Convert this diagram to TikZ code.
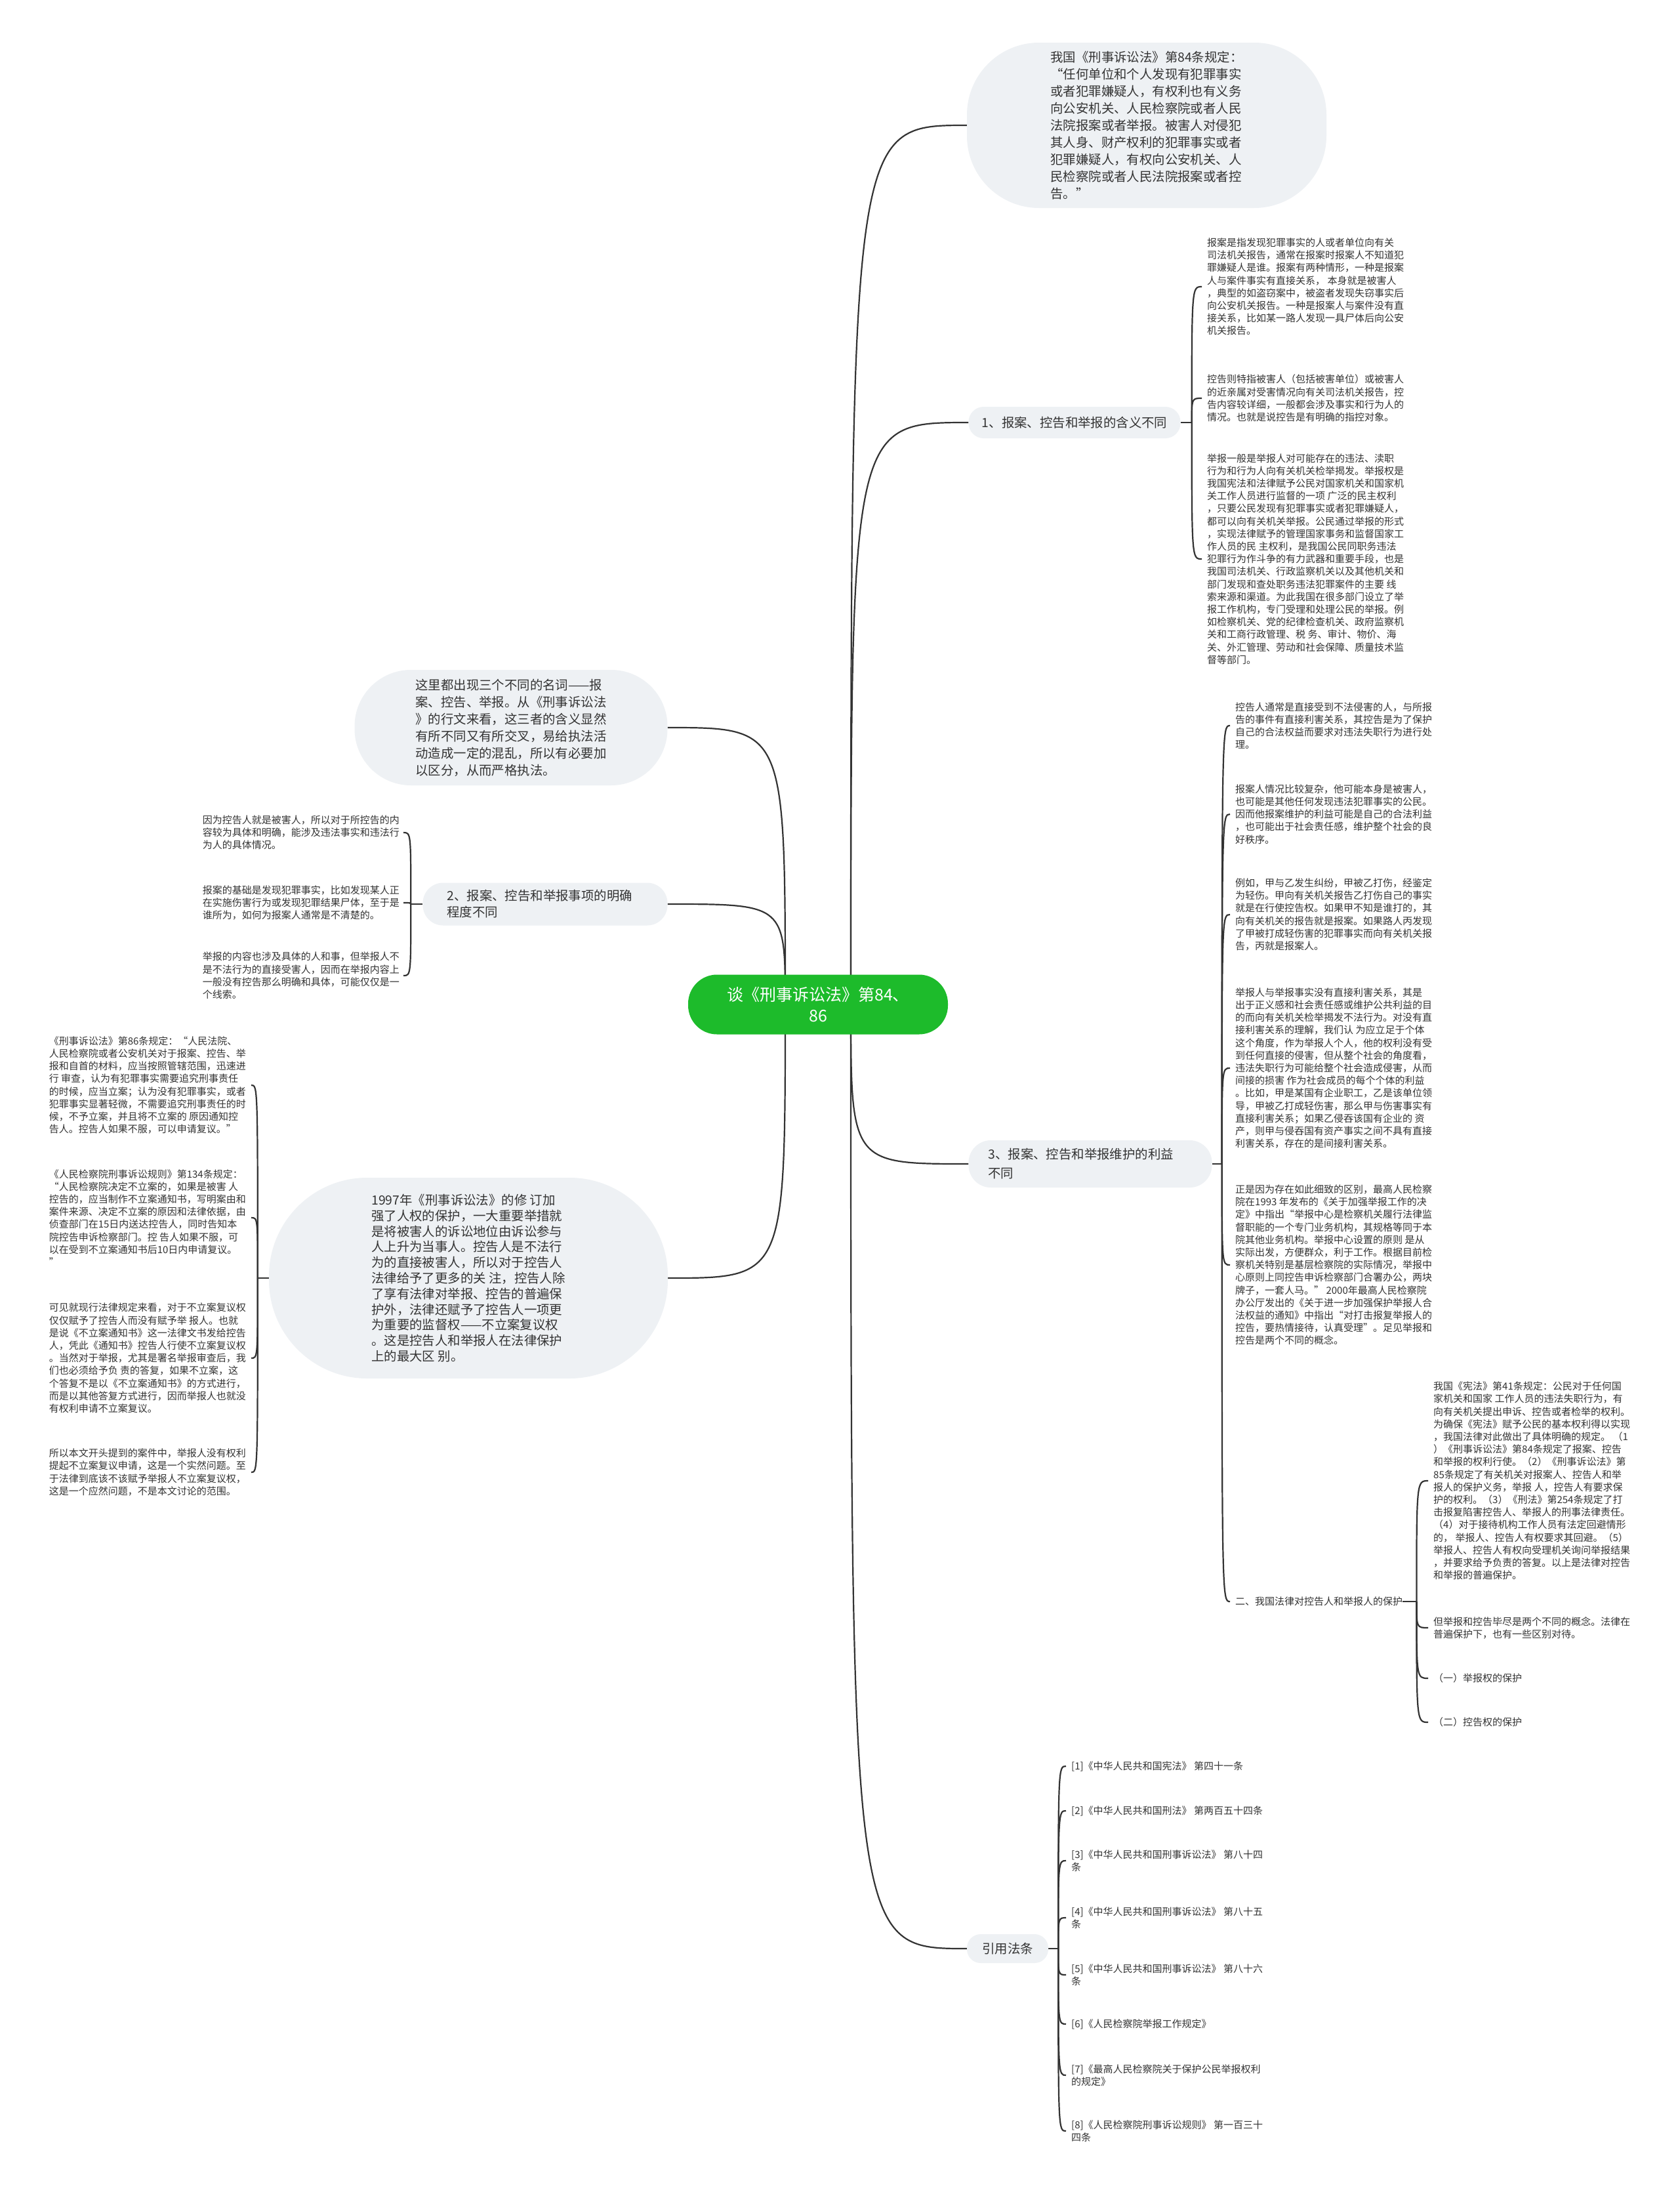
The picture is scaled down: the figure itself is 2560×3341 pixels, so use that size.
\documentclass[tikz,border=0pt]{standalone}
\usepackage{fontspec}
\setmainfont{Noto Sans CJK SC}
\usetikzlibrary{backgrounds}
\definecolor{bubblegray}{HTML}{EEF1F4}
\definecolor{rootgreen}{HTML}{1DBB2B}
\definecolor{inkgray}{HTML}{333333}

\begin{document}
\begin{tikzpicture}[x=1pt, y=-1pt,
    conn/.style={draw=inkgray, line width=2.2pt},
    bubble/.style={fill=bubblegray, text=inkgray, inner sep=0pt, align=left,
        font=\fontsize{19.4}{26}\selectfont},
    leaf/.style={text=inkgray, inner sep=0pt, align=left,
        font=\fontsize{15}{19.2}\selectfont},
    rootbox/.style={fill=rootgreen, text=white, inner sep=0pt, align=center,
        font=\fontsize{25}{32}\selectfont, rounded corners=44pt}]

    \useasboundingbox (0,0) rectangle (2560,3341);

    \node[rootbox, minimum width=396pt, minimum height=91pt] (root) at (1247,1531)
        {谈《刑事诉讼法》第84、\\86};

    \node[bubble, minimum width=548pt, minimum height=252pt, rounded corners=110pt] (q84) at (1748,191) {%
        我国《刑事诉讼法》第84条规定：\\
        “任何单位和个人发现有犯罪事实\\
        或者犯罪嫌疑人，有权利也有义务\\
        向公安机关、人民检察院或者人民\\
        法院报案或者举报。被害人对侵犯\\
        其人身、财产权利的犯罪事实或者\\
        犯罪嫌疑人，有权向公安机关、人\\
        民检察院或者人民法院报案或者控\\
        告。”};

    \node[bubble, minimum width=323pt, minimum height=48pt, rounded corners=23pt] (b1) at (1638,644)
        {1、报案、控告和举报的含义不同};

    \node[leaf, anchor=west] (b1a) at (1840,437) {%
        报案是指发现犯罪事实的人或者单位向有关\\
        司法机关报告，通常在报案时报案人不知道犯\\
        罪嫌疑人是谁。报案有两种情形，一种是报案\\
        人与案件事实有直接关系， 本身就是被害人\\
        ，典型的如盗窃案中，被盗者发现失窃事实后\\
        向公安机关报告。一种是报案人与案件没有直\\
        接关系，比如某一路人发现一具尸体后向公安\\
        机关报告。};
    \node[leaf, anchor=west] (b1b) at (1840,607) {%
        控告则特指被害人（包括被害单位）或被害人\\
        的近亲属对受害情况向有关司法机关报告，控\\
        告内容较详细，一般都会涉及事实和行为人的\\
        情况。也就是说控告是有明确的指控对象。};
    \node[leaf, anchor=west] (b1c) at (1840,852) {%
        举报一般是举报人对可能存在的违法、渎职\\
        行为和行为人向有关机关检举揭发。举报权是\\
        我国宪法和法律赋予公民对国家机关和国家机\\
        关工作人员进行监督的一项 广泛的民主权利\\
        ，只要公民发现有犯罪事实或者犯罪嫌疑人，\\
        都可以向有关机关举报。公民通过举报的形式\\
        ，实现法律赋予的管理国家事务和监督国家工\\
        作人员的民 主权利，是我国公民同职务违法\\
        犯罪行为作斗争的有力武器和重要手段，也是\\
        我国司法机关、行政监察机关以及其他机关和\\
        部门发现和查处职务违法犯罪案件的主要 线\\
        索来源和渠道。为此我国在很多部门设立了举\\
        报工作机构，专门受理和处理公民的举报。例\\
        如检察机关、党的纪律检查机关、政府监察机\\
        关和工商行政管理、税 务、审计、物价、海\\
        关、外汇管理、劳动和社会保障、质量技术监\\
        督等部门。};

    \node[bubble, minimum width=371pt, minimum height=72pt, text width=311pt,
        rounded corners=34pt, font=\fontsize{19.4}{29}\selectfont] (b3) at (1662,1774)
        {3、报案、控告和举报维护的利益\\不同};

    \node[leaf, anchor=west] (b3a) at (1883,1106) {%
        控告人通常是直接受到不法侵害的人，与所报\\
        告的事件有直接利害关系，其控告是为了保护\\
        自己的合法权益而要求对违法失职行为进行处\\
        理。};
    \node[leaf, anchor=west] (b3b) at (1883,1241) {%
        报案人情况比较复杂，他可能本身是被害人，\\
        也可能是其他任何发现违法犯罪事实的公民。\\
        因而他报案维护的利益可能是自己的合法利益\\
        ，也可能出于社会责任感，维护整个社会的良\\
        好秩序。};
    \node[leaf, anchor=west] (b3c) at (1883,1394) {%
        例如，甲与乙发生纠纷，甲被乙打伤，经鉴定\\
        为轻伤。甲向有关机关报告乙打伤自己的事实\\
        就是在行使控告权。如果甲不知是谁打的，其\\
        向有关机关的报告就是报案。如果路人丙发现\\
        了甲被打成轻伤害的犯罪事实而向有关机关报\\
        告，丙就是报案人。};
    \node[leaf, anchor=west] (b3d) at (1883,1628) {%
        举报人与举报事实没有直接利害关系，其是\\
        出于正义感和社会责任感或维护公共利益的目\\
        的而向有关机关检举揭发不法行为。对没有直\\
        接利害关系的理解，我们认 为应立足于个体\\
        这个角度，作为举报人个人，他的权利没有受\\
        到任何直接的侵害，但从整个社会的角度看，\\
        违法失职行为可能给整个社会造成侵害，从而\\
        间接的损害 作为社会成员的每个个体的利益\\
        。比如，甲是某国有企业职工，乙是该单位领\\
        导，甲被乙打成轻伤害，那么甲与伤害事实有\\
        直接利害关系；如果乙侵吞该国有企业的 资\\
        产，则甲与侵吞国有资产事实之间不具有直接\\
        利害关系，存在的是间接利害关系。};
    \node[leaf, anchor=west] (b3e) at (1883,1928) {%
        正是因为存在如此细致的区别，最高人民检察\\
        院在1993 年发布的《关于加强举报工作的决\\
        定》中指出“举报中心是检察机关履行法律监\\
        督职能的一个专门业务机构，其规格等同于本\\
        院其他业务机构。举报中心设置的原则 是从\\
        实际出发，方便群众，利于工作。根据目前检\\
        察机关特别是基层检察院的实际情况，举报中\\
        心原则上同控告申诉检察部门合署办公，两块\\
        牌子，一套人马。” 2000年最高人民检察院\\
        办公厅发出的《关于进一步加强保护举报人合\\
        法权益的通知》中指出“对打击报复举报人的\\
        控告，要热情接待，认真受理”。足见举报和\\
        控告是两个不同的概念。};
    \node[leaf, anchor=west] (b3f) at (1883,2441) {二、我国法律对控告人和举报人的保护};

    \node[leaf, anchor=west] (p1) at (2185,2257) {%
        我国《宪法》第41条规定：公民对于任何国\\
        家机关和国家 工作人员的违法失职行为，有\\
        向有关机关提出申诉、控告或者检举的权利。\\
        为确保《宪法》赋予公民的基本权利得以实现\\
        ，我国法律对此做出了具体明确的规定。 （1\\
        ）《刑事诉讼法》第84条规定了报案、控告\\
        和举报的权利行使。（2）《刑事诉讼法》第\\
        85条规定了有关机关对报案人、控告人和举\\
        报人的保护义务，举报 人，控告人有要求保\\
        护的权利。（3）《刑法》第254条规定了打\\
        击报复陷害控告人、举报人的刑事法律责任。\\
        （4）对于接待机构工作人员有法定回避情形\\
        的， 举报人、控告人有权要求其回避。（5）\\
        举报人、控告人有权向受理机关询问举报结果\\
        ，并要求给予负责的答复。以上是法律对控告\\
        和举报的普遍保护。};
    \node[leaf, anchor=west] (p2) at (2185,2481) {%
        但举报和控告毕尽是两个不同的概念。法律在\\
        普遍保护下，也有一些区别对待。};
    \node[leaf, anchor=west] (p3) at (2185,2558) {（一）举报权的保护};
    \node[leaf, anchor=west] (p4) at (2185,2625) {（二）控告权的保护};

    \node[bubble, minimum width=124pt, minimum height=44pt, rounded corners=21pt] (law) at (1536,2970) {引用法条};

    \node[leaf, anchor=west] (law1) at (1633,2692) {[1]《中华人民共和国宪法》 第四十一条};
    \node[leaf, anchor=west] (law2) at (1633,2760) {[2]《中华人民共和国刑法》 第两百五十四条};
    \node[leaf, anchor=west] (law3) at (1633,2836) {[3]《中华人民共和国刑事诉讼法》 第八十四\\条};
    \node[leaf, anchor=west] (law4) at (1633,2923) {[4]《中华人民共和国刑事诉讼法》 第八十五\\条};
    \node[leaf, anchor=west] (law5) at (1633,3010) {[5]《中华人民共和国刑事诉讼法》 第八十六\\条};
    \node[leaf, anchor=west] (law6) at (1633,3085) {[6]《人民检察院举报工作规定》};
    \node[leaf, anchor=west] (law7) at (1633,3163) {[7]《最高人民检察院关于保护公民举报权利\\的规定》};
    \node[leaf, anchor=west] (law8) at (1633,3248) {[8]《人民检察院刑事诉讼规则》 第一百三十\\四条};

    \node[bubble, minimum width=477pt, minimum height=176pt, rounded corners=86pt] (l0) at (779,1109) {%
        这里都出现三个不同的名词——报\\
        案、控告、举报。从《刑事诉讼法\\
        》的行文来看，这三者的含义显然\\
        有所不同又有所交叉，易给执法活\\
        动造成一定的混乱，所以有必要加\\
        以区分，从而严格执法。};

    \node[bubble, minimum width=373pt, minimum height=65pt, text width=299pt,
        rounded corners=31pt, font=\fontsize{19.4}{25}\selectfont] (b2) at (831,1378)
        {2、报案、控告和举报事项的明确\\程度不同};

    \node[leaf, anchor=east] (b2a) at (609,1269) {%
        因为控告人就是被害人，所以对于所控告的内\\
        容较为具体和明确，能涉及违法事实和违法行\\
        为人的具体情况。};
    \node[leaf, anchor=east] (b2b) at (609,1376) {%
        报案的基础是发现犯罪事实，比如发现某人正\\
        在实施伤害行为或发现犯罪结果尸体，至于是\\
        谁所为，如何为报案人通常是不清楚的。};
    \node[leaf, anchor=east] (b2c) at (609,1487) {%
        举报的内容也涉及具体的人和事，但举报人不\\
        是不法行为的直接受害人，因而在举报内容上\\
        一般没有控告那么明确和具体，可能仅仅是一\\
        个线索。};

    \node[bubble, minimum width=608pt, minimum height=306pt, rounded corners=150pt,
        font=\fontsize{19.4}{23.8}\selectfont] (b97) at (714,1948) {%
        1997年《刑事诉讼法》的修 订加\\
        强了人权的保护，一大重要举措就\\
        是将被害人的诉讼地位由诉讼参与\\
        人上升为当事人。控告人是不法行\\
        为的直接被害人，所以对于控告人\\
        法律给予了更多的关 注，控告人除\\
        了享有法律对举报、控告的普遍保\\
        护外，法律还赋予了控告人一项更\\
        为重要的监督权——不立案复议权\\
        。这是控告人和举报人在法律保护\\
        上的最大区 别。};

    \node[leaf, anchor=east] (b97a) at (375,1654) {%
        《刑事诉讼法》第86条规定：“人民法院、\\
        人民检察院或者公安机关对于报案、控告、举\\
        报和自首的材料，应当按照管辖范围，迅速进\\
        行 审查，认为有犯罪事实需要追究刑事责任\\
        的时候，应当立案；认为没有犯罪事实，或者\\
        犯罪事实显著轻微，不需要追究刑事责任的时\\
        候，不予立案，并且将不立案的 原因通知控\\
        告人。控告人如果不服，可以申请复议。”};
    \node[leaf, anchor=east] (b97b) at (375,1856) {%
        《人民检察院刑事诉讼规则》第134条规定：\\
        “人民检察院决定不立案的，如果是被害 人\\
        控告的，应当制作不立案通知书，写明案由和\\
        案件来源、决定不立案的原因和法律依据，由\\
        侦查部门在15日内送达控告人，同时告知本\\
        院控告申诉检察部门。控 告人如果不服，可\\
        以在受到不立案通知书后10日内申请复议。\\
        ”};
    \node[leaf, anchor=east] (b97c) at (375,2070) {%
        可见就现行法律规定来看，对于不立案复议权\\
        仅仅赋予了控告人而没有赋予举 报人。也就\\
        是说《不立案通知书》这一法律文书发给控告\\
        人，凭此《通知书》控告人行使不立案复议权\\
        。当然对于举报，尤其是署名举报审查后，我\\
        们也必须给予负 责的答复，如果不立案，这\\
        个答复不是以《不立案通知书》的方式进行，\\
        而是以其他答复方式进行，因而举报人也就没\\
        有权利申请不立案复议。};
    \node[leaf, anchor=east] (b97d) at (375,2244) {%
        所以本文开头提到的案件中，举报人没有权利\\
        提起不立案复议申请，这是一个实然问题。至\\
        于法律到底该不该赋予举报人不立案复议权，\\
        这是一个应然问题，不是本文讨论的范围。};

    \coordinate (hr) at ([xshift=50pt]root.center);
    \coordinate (hl) at ([xshift=-50pt]root.center);
    \coordinate (j1) at ([xshift=17pt]b1.east);
    \coordinate (j3) at ([xshift=15pt]b3.east);
    \coordinate (jp) at ([xshift=21pt]b3f.east);
    \coordinate (jl) at ([xshift=15pt]law.east);
    \coordinate (j2) at ([xshift=-18pt]b2.west);
    \coordinate (j97) at ([xshift=-17pt]b97.west);

    \begin{pgfonlayer}{background}
        \fill[white] (0,0) rectangle (2560,3341);

        \foreach \c in {q84,b1,b3,law}
            \draw[conn] (hr) .. controls (hr |- \c.west) .. (\c.west);
        \foreach \c in {l0,b2,b97}
            \draw[conn] (hl) .. controls (hl |- \c.east) .. (\c.east);

        \draw[conn] (b1.east) -- (j1);
        \foreach \c in {b1a,b1b,b1c}
            \draw[conn] (j1) .. controls (j1 |- \c.west) .. ([xshift=-8pt]\c.west);

        \draw[conn] (b3.east) -- (j3);
        \foreach \c in {b3a,b3b,b3c,b3d,b3e,b3f}
            \draw[conn] (j3) .. controls (j3 |- \c.west) .. ([xshift=-8pt]\c.west);

        \draw[conn] (b3f.east) -- (jp);
        \foreach \c in {p1,p2,p3,p4}
            \draw[conn] (jp) .. controls (jp |- \c.west) .. ([xshift=-8pt]\c.west);

        \draw[conn] (law.east) -- (jl);
        \foreach \c in {law1,law2,law3,law4,law5,law6,law7,law8}
            \draw[conn] (jl) .. controls (jl |- \c.west) .. ([xshift=-8pt]\c.west);

        \draw[conn] (b2.west) -- (j2);
        \foreach \c in {b2a,b2b,b2c}
            \draw[conn] (j2) .. controls (j2 |- \c.east) .. ([xshift=6pt]\c.east);

        \draw[conn] (b97.west) -- (j97);
        \foreach \c in {b97a,b97b,b97c,b97d}
            \draw[conn] (j97) .. controls (j97 |- \c.east) .. ([xshift=8pt]\c.east);
    \end{pgfonlayer}
\end{tikzpicture}
\end{document}
